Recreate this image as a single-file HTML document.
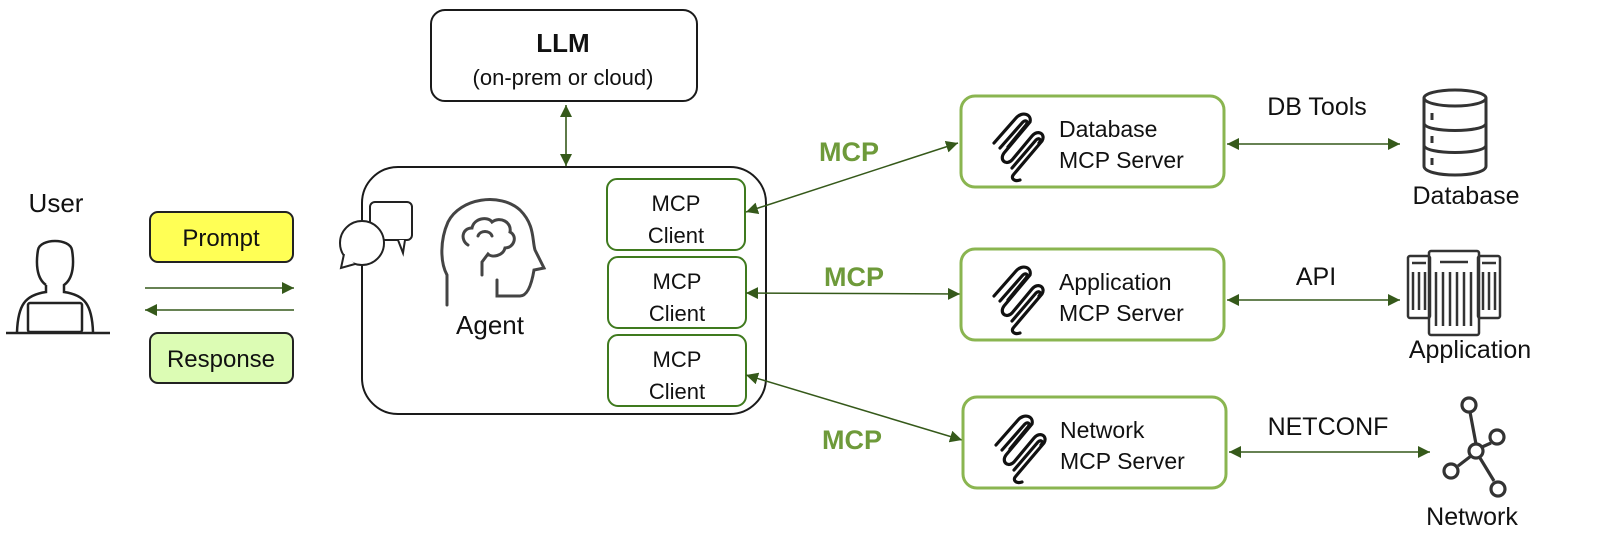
<!DOCTYPE html>
<html><head><meta charset="utf-8"><style>
html,body{margin:0;padding:0;background:#fff;}
svg{display:block;font-family:"Liberation Sans",sans-serif;}
</style></head><body>
<svg width="1600" height="544" viewBox="0 0 1600 544" xmlns="http://www.w3.org/2000/svg">
<defs>
<marker id="ah" viewBox="0 0 10 10" refX="10" refY="5" markerWidth="12" markerHeight="12" markerUnits="userSpaceOnUse" orient="auto-start-reverse">
<path d="M0,0 L10,5 L0,10 z" fill="#35591a"/></marker>
</defs>
<!-- LLM -->
<rect x="431" y="10" width="266" height="91" rx="14" fill="#fff" stroke="#1a1a1a" stroke-width="2"/>
<text x="563" y="52" font-size="26" font-weight="bold" text-anchor="middle" fill="#111">LLM</text>
<text x="563" y="85" font-size="22" text-anchor="middle" fill="#111">(on-prem or cloud)</text>
<line x1="566" y1="105" x2="566" y2="166" stroke="#35591a" stroke-width="1.6" marker-start="url(#ah)" marker-end="url(#ah)"/>
<!-- Agent -->
<rect x="362" y="167" width="404" height="247" rx="36" fill="#fff" stroke="#1a1a1a" stroke-width="2"/>
<g fill="#fff" stroke="#222" stroke-width="2">
<rect x="370" y="202" width="42" height="38" rx="5"/>
<path d="M398,240 L403,253 L405,240"/>
<circle cx="362" cy="243" r="22"/>
<path d="M344,254 L341,268 L355,264"/>
</g>
<g fill="none" stroke="#444" stroke-width="3" stroke-linecap="round">
<path d="M447,305 L447,275 C440,262 440,240 448,222 C460,198 500,192 520,210 C535,225 532,240 535,250 L544,268 L534,270 C532,282 528,296 520,296 L497,296 L497,280"/>
<path d="M468,245 C460,240 462,228 472,228 C474,218 488,216 492,222 C500,216 512,222 510,232 C518,236 514,248 505,248 C503,256 492,258 488,254 L482,262 L482,275"/>
<path d="M478,236 C480,230 490,230 492,236"/>
</g>
<text x="490" y="334" font-size="26" text-anchor="middle" fill="#111">Agent</text>
<!-- Clients -->
<g fill="#fff" stroke="#3f7a1e" stroke-width="2">
<rect x="607" y="179" width="138" height="71" rx="10"/>
<rect x="608" y="257" width="138" height="71" rx="10"/>
<rect x="608" y="335" width="138" height="71" rx="10"/>
</g>
<g font-size="22" text-anchor="middle" fill="#111">
<text x="676" y="211">MCP</text><text x="676" y="243">Client</text>
<text x="677" y="289">MCP</text><text x="677" y="321">Client</text>
<text x="677" y="367">MCP</text><text x="677" y="399">Client</text>
</g>
<!-- User -->
<text x="56" y="212" font-size="26" text-anchor="middle" fill="#111">User</text>
<g fill="none" stroke="#222" stroke-width="2.5">
<path d="M46,285 C36,278 36,262 38,250 C40,238 70,238 72,250 C74,262 74,278 64,285 L64,292 C85,295 92,305 93,332 M46,285 L46,292 C25,295 18,305 17,332"/>
<rect x="28" y="303" width="54" height="29" rx="2"/>
<line x1="6" y1="333" x2="110" y2="333"/>
</g>
<!-- Prompt/Response -->
<rect x="150" y="212" width="143" height="50" rx="8" fill="#ffff55" stroke="#222" stroke-width="2"/>
<text x="221" y="246" font-size="24" text-anchor="middle" fill="#111">Prompt</text>
<line x1="145" y1="288" x2="294" y2="288" stroke="#35591a" stroke-width="1.5" marker-end="url(#ah)"/>
<line x1="294" y1="310" x2="145" y2="310" stroke="#35591a" stroke-width="1.5" marker-end="url(#ah)"/>
<rect x="150" y="333" width="143" height="50" rx="8" fill="#dcfcb4" stroke="#222" stroke-width="2"/>
<text x="221" y="367" font-size="24" text-anchor="middle" fill="#111">Response</text>
<!-- MCP connectors -->
<line x1="746" y1="212" x2="958" y2="143" stroke="#35591a" stroke-width="1.5" marker-start="url(#ah)" marker-end="url(#ah)"/>
<line x1="746" y1="293" x2="960" y2="294" stroke="#35591a" stroke-width="1.5" marker-start="url(#ah)" marker-end="url(#ah)"/>
<line x1="746" y1="375" x2="962" y2="440" stroke="#35591a" stroke-width="1.5" marker-start="url(#ah)" marker-end="url(#ah)"/>
<g font-size="27" font-weight="bold" fill="#6e9a3a" text-anchor="middle">
<text x="849" y="161">MCP</text>
<text x="854" y="286">MCP</text>
<text x="852" y="449">MCP</text>
</g>
<!-- Servers -->
<g fill="#fff" stroke="#8ab550" stroke-width="3">
<rect x="961" y="96" width="263" height="91" rx="14"/>
<rect x="961" y="249" width="263" height="91" rx="14"/>
<rect x="963" y="397" width="263" height="91" rx="14"/>
</g>
<g fill="none" stroke="#111" stroke-width="3.2" stroke-linecap="round" stroke-linejoin="round">
<g id="mcpi"><path d="M994,143 L1016,118 C1022,111 1032,114 1030,122 L1004,153 C999,160 1006,166 1012,160 L1032,136 C1038,129 1046,134 1042,141 L1014,174 C1010,178 1014,182 1020,180 M1000,148 L1022,123 C1025,119 1029,121 1026,125 L1008,147 M1012,168 L1036,140 C1039,137 1042,140 1039,143"/></g>
<use href="#mcpi" y="153"/>
<use href="#mcpi" x="2" y="302"/>
</g>
<g font-size="23" fill="#111">
<text x="1059" y="137">Database</text><text x="1059" y="168">MCP Server</text>
<text x="1059" y="290">Application</text><text x="1059" y="321">MCP Server</text>
<text x="1060" y="438">Network</text><text x="1060" y="469">MCP Server</text>
</g>
<!-- right connectors -->
<line x1="1227" y1="144" x2="1400" y2="144" stroke="#35591a" stroke-width="1.5" marker-start="url(#ah)" marker-end="url(#ah)"/>
<line x1="1227" y1="300" x2="1400" y2="300" stroke="#35591a" stroke-width="1.5" marker-start="url(#ah)" marker-end="url(#ah)"/>
<line x1="1229" y1="452" x2="1430" y2="452" stroke="#35591a" stroke-width="1.5" marker-start="url(#ah)" marker-end="url(#ah)"/>
<g font-size="25" fill="#111" text-anchor="middle">
<text x="1317" y="115">DB Tools</text>
<text x="1316" y="285">API</text>
<text x="1328" y="435">NETCONF</text>
<text x="1466" y="204">Database</text>
<text x="1470" y="358">Application</text>
<text x="1472" y="525">Network</text>
</g>
<!-- Database icon -->
<g fill="none" stroke="#333" stroke-width="3">
<ellipse cx="1455" cy="98" rx="31" ry="8"/>
<path d="M1424,98 L1424,166 C1424,178 1486,178 1486,166 L1486,98"/>
<path d="M1424,123 C1424,133 1486,133 1486,123 M1424,145 C1424,155 1486,155 1486,145"/>
<path d="M1432,113 L1432,120 M1432,136 L1432,143 M1432,158 L1432,165"/>
</g>
<!-- Application icon -->
<g fill="none" stroke="#333" stroke-width="2.5">
<rect x="1408" y="256" width="22" height="62" rx="2"/>
<rect x="1478" y="256" width="22" height="62" rx="2"/>
<rect x="1429" y="251" width="50" height="84" rx="2"/>
<path d="M1412,263 H1426 M1482,263 H1496 M1440,262 H1468 M1413,272 V310 M1419,272 V310 M1425,272 V310 M1483,272 V310 M1489,272 V310 M1495,272 V310 M1436,272 V326 M1443,272 V326 M1450,272 V326 M1457,272 V326 M1464,272 V326 M1471,272 V326"/>
</g>
<!-- Network icon -->
<g fill="none" stroke="#333" stroke-width="3.2">
<line x1="1470" y1="412" x2="1476" y2="444"/>
<line x1="1482" y1="447" x2="1491" y2="443"/>
<line x1="1471" y1="456" x2="1458" y2="466"/>
<line x1="1480" y1="458" x2="1494" y2="481"/>
<circle cx="1469" cy="405" r="7"/>
<circle cx="1476" cy="451" r="7"/>
<circle cx="1497" cy="437" r="7"/>
<circle cx="1451" cy="471" r="7"/>
<circle cx="1498" cy="489" r="7"/>
</g>
</svg>
</body></html>
